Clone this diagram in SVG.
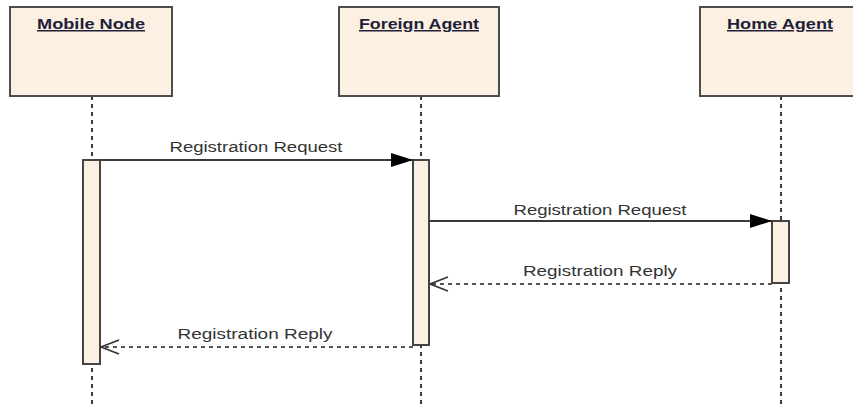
<svg xmlns="http://www.w3.org/2000/svg" width="853" height="404" viewBox="0 0 853 404">
  <style>
    .box { fill: #fbf0e2; stroke: #4d4d4d; stroke-width: 2; }
    .bar { fill: #fbf0e2; stroke: #444444; stroke-width: 2; }
    .life { stroke: #3a3a3a; stroke-width: 2; stroke-dasharray: 4 4; fill: none; }
    .title { font-family: "Liberation Sans", Arial, sans-serif; font-size: 15px; font-weight: bold; fill: #1f1f3a; text-anchor: middle; text-decoration: underline; }
    .lbl { font-family: "Liberation Sans", Arial, sans-serif; font-size: 14px; fill: #333333; text-anchor: middle; }
    .call { stroke: #3a3a3a; stroke-width: 2; fill: none; }
    .reply { stroke: #555555; stroke-width: 2; stroke-dasharray: 4 4; fill: none; }
  </style>
  <defs>
    <marker id="filled" markerWidth="24" markerHeight="16" refX="23" refY="8" orient="auto" markerUnits="userSpaceOnUse">
      <path d="M1,1 L23,8 L1,15 Z" fill="#000"/>
    </marker>
    <marker id="open" markerWidth="20" markerHeight="16" refX="19" refY="8" orient="auto" markerUnits="userSpaceOnUse">
      <path d="M1,1 L19,8 L1,15" fill="none" stroke="#333" stroke-width="1.5"/>
    </marker>
  </defs>
  <rect width="853" height="404" fill="#ffffff"/>

  <!-- lifelines -->
  <g id="lifelines">
    <line class="life" x1="92" y1="96" x2="92" y2="404"/>
    <line class="life" x1="421" y1="96" x2="421" y2="404"/>
    <line class="life" x1="781" y1="96" x2="781" y2="404"/>
  </g>

  <g id="mobile-node">
    <rect class="box" x="10" y="7" width="162" height="89"/>
    <text class="title" x="91" y="29" textLength="108" lengthAdjust="spacingAndGlyphs">Mobile Node</text>
    <rect class="bar" x="83" y="160" width="17" height="204"/>
  </g>

  <g id="foreign-agent">
    <rect class="box" x="339" y="7" width="160" height="89"/>
    <text class="title" x="419" y="29" textLength="120" lengthAdjust="spacingAndGlyphs">Foreign Agent</text>
    <rect class="bar" x="413" y="160" width="16" height="185"/>
  </g>

  <g id="home-agent">
    <rect class="box" x="700" y="7" width="162" height="89"/>
    <text class="title" x="780" y="29" textLength="106" lengthAdjust="spacingAndGlyphs">Home Agent</text>
    <rect class="bar" x="772" y="221" width="17" height="62"/>
  </g>

  <g id="connectors">
    <line class="call" x1="100" y1="160" x2="413" y2="160" marker-end="url(#filled)"/>
    <text class="lbl" x="256" y="152" textLength="173" lengthAdjust="spacingAndGlyphs">Registration Request</text>

    <line class="call" x1="429" y1="221" x2="772" y2="221" marker-end="url(#filled)"/>
    <text class="lbl" x="600" y="215" textLength="173" lengthAdjust="spacingAndGlyphs">Registration Request</text>

    <line class="reply" x1="772" y1="284" x2="430" y2="284" marker-end="url(#open)"/>
    <text class="lbl" x="600" y="276" textLength="154" lengthAdjust="spacingAndGlyphs">Registration Reply</text>

    <line class="reply" x1="413" y1="347" x2="101" y2="347" marker-end="url(#open)"/>
    <text class="lbl" x="255" y="339" textLength="155" lengthAdjust="spacingAndGlyphs">Registration Reply</text>
  </g>
</svg>
